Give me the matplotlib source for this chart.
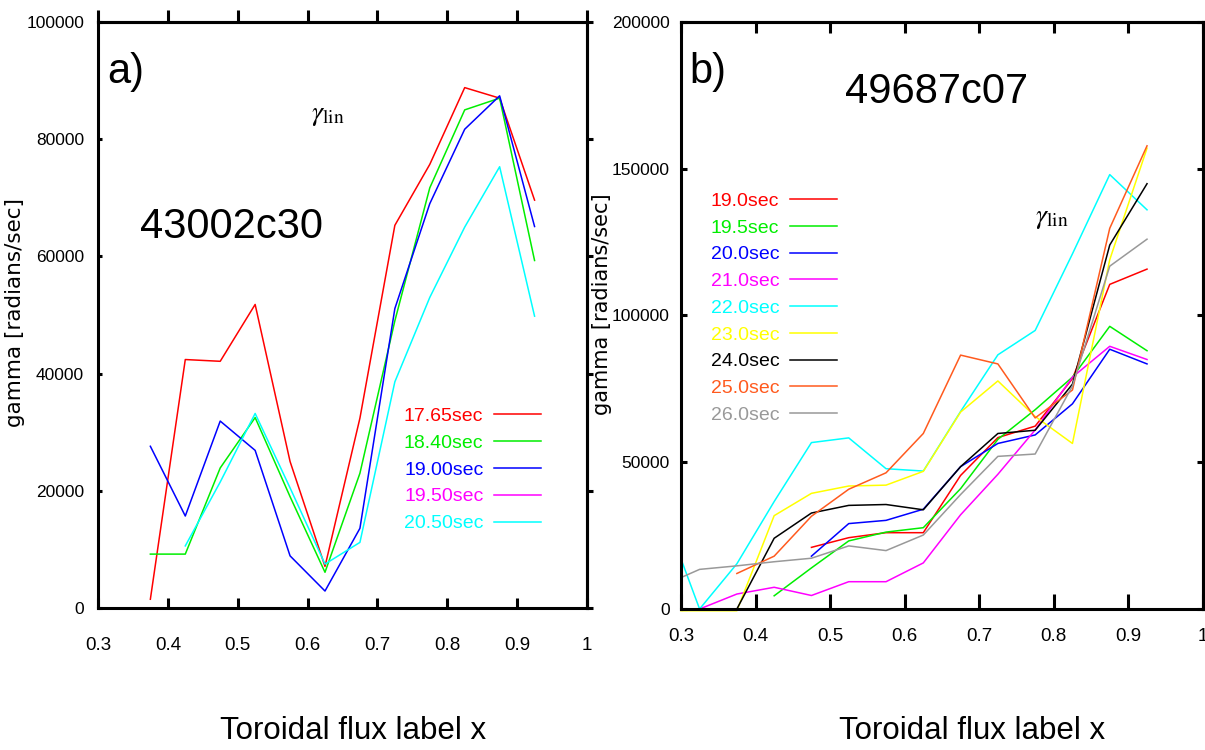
import matplotlib
matplotlib.use('Agg')
import matplotlib.pyplot as plt

NARROW = ['Liberation Sans Narrow', 'Liberation Sans', 'DejaVu Sans']
SANS = ['Liberation Sans', 'DejaVu Sans']
plt.rcParams['mathtext.fontset'] = 'stix'

# ---------------- Panel a data (43002c30) ----------------
xa = [0.375, 0.425, 0.475, 0.525, 0.575, 0.625, 0.675, 0.725, 0.775, 0.825, 0.875, 0.925]
xa_late = [0.425, 0.475, 0.525, 0.575, 0.625, 0.675, 0.725, 0.775, 0.825, 0.875, 0.925]
a_1765 = [1500, 42400, 42100, 51800, 25000, 7100, 32400, 65300, 75700, 88800, 87000, 69600]
a_1840 = [9200, 9200, 23900, 32500, 19000, 6100, 23000, 49000, 71700, 85000, 87000, 59300]
a_1900 = [27600, 15700, 31900, 26900, 8900, 2900, 13600, 51100, 69000, 81700, 87400, 65100]
a_1950 = []  # appears only in the legend
a_2050 = [10600, 21500, 33200, 20500, 7500, 11200, 38600, 53000, 65000, 75300, 49800]
a_labels = ['17.65sec', '18.40sec', '19.00sec', '19.50sec', '20.50sec']
a_colors = ['#ff0000', '#00ee00', '#0000ff', '#ff00ff', '#00ffff']
a_series = [(xa, a_1765), (xa, a_1840), (xa, a_1900), ([], a_1950), (xa_late, a_2050)]

# ---------------- Panel b data (49687c07) ----------------
xb_all = [0.3, 0.325, 0.375, 0.425, 0.475, 0.525, 0.575, 0.625, 0.675, 0.725, 0.775, 0.825, 0.875, 0.925]
xb_325 = [0.325, 0.375, 0.425, 0.475, 0.525, 0.575, 0.625, 0.675, 0.725, 0.775, 0.825, 0.875, 0.925]
xb_375 = [0.375, 0.425, 0.475, 0.525, 0.575, 0.625, 0.675, 0.725, 0.775, 0.825, 0.875, 0.925]
xb_425 = [0.425, 0.475, 0.525, 0.575, 0.625, 0.675, 0.725, 0.775, 0.825, 0.875, 0.925]
xb_475 = [0.475, 0.525, 0.575, 0.625, 0.675, 0.725, 0.775, 0.825, 0.875, 0.925]
b_190 = [21000, 24300, 26000, 26000, 45500, 58400, 62300, 78500, 110600, 115800]
b_195 = [4500, 14000, 23200, 26200, 27700, 41000, 57800, 67900, 79000, 96300, 88000]
b_200 = [18000, 29100, 30200, 34000, 48500, 56400, 59300, 69900, 88500, 83500]
b_210 = [0, 5100, 7400, 4600, 9300, 9300, 15700, 32100, 45900, 61000, 79000, 89500, 85000]
b_220 = [17100, 0, 15400, 36600, 56700, 58300, 47800, 47000, 67300, 86600, 94900, 121000, 148000, 136000]
b_230 = [-600, -600, -600, 31800, 39400, 41900, 42200, 46900, 67100, 77700, 65600, 56400, 119000, 157000]
b_240 = [0, 0, 0, 24100, 32700, 35300, 35600, 33800, 48500, 59800, 60900, 76600, 124000, 144900]
b_250 = [12100, 18000, 31600, 40800, 46400, 59800, 86500, 83500, 65100, 74600, 129700, 157800]
b_260 = [10700, 13500, 14700, 16100, 17300, 21500, 19900, 25200, 39000, 52000, 52800, 76000, 116800, 126000]
b_labels = ['19.0sec', '19.5sec', '20.0sec', '21.0sec', '22.0sec', '23.0sec', '24.0sec', '25.0sec', '26.0sec']
b_colors = ['#ff0000', '#00ee00', '#0000ff', '#ff00ff', '#00ffff', '#ffff00', '#000000', '#ff5a1e', '#999999']
b_series = [(xb_475, b_190), (xb_425, b_195), (xb_475, b_200), (xb_325, b_210), (xb_all, b_220),
            (xb_all, b_230), (xb_all, b_240), (xb_375, b_250), (xb_all, b_260)]

xticks = [0.3, 0.4, 0.5, 0.6, 0.7, 0.8, 0.9, 1.0]
xticklabels = ['0.3', '0.4', '0.5', '0.6', '0.7', '0.8', '0.9', '1']
a_yticks = [0, 20000, 40000, 60000, 80000, 100000]
b_yticks = [0, 50000, 100000, 150000, 200000]

fig = plt.figure(figsize=(12.05, 7.5), dpi=100)
axa = fig.add_axes([0.0813, 0.1893, 0.4058, 0.7814])
axb = fig.add_axes([0.5651, 0.1880, 0.4332, 0.7827])

SPW = 2.2
TICKFS = 12.5


def style(ax, yticks, ymax, top_dir, top_len, right_dir, right_len, bot_len, left_len, xpad, ypad):
    ax.set_xlim(0.3, 1.0)
    ax.set_ylim(0, ymax)
    for s in ax.spines.values():
        s.set_linewidth(SPW)
    ax.set_xticks(xticks)
    ax.set_xticklabels(xticklabels, fontfamily=NARROW, fontsize=TICKFS + 1)
    ax.set_yticks(yticks)
    ax.set_yticklabels([str(v) for v in yticks], fontfamily=NARROW, fontsize=TICKFS)
    ax.tick_params(axis='x', direction='in', length=bot_len, width=SPW, pad=xpad, top=False)
    ax.tick_params(axis='y', direction='in', length=left_len, width=SPW, pad=ypad, right=False)
    sx = ax.secondary_xaxis('top')
    sx.set_xticks(xticks)
    sx.tick_params(direction=top_dir, length=top_len, width=SPW, labeltop=False)
    sx.spines['top'].set_linewidth(SPW)
    sy = ax.secondary_yaxis('right')
    sy.set_yticks(yticks)
    sy.tick_params(direction=right_dir, length=right_len, width=SPW, labelright=False)
    sy.spines['right'].set_linewidth(SPW)


style(axa, a_yticks, 100000, 'out', 9, 'out', 4, 7, 3, 21, 10)
style(axb, b_yticks, 200000, 'in', 8, 'inout', 8, 11, 4, 14, 8)

for (x, y), c, lab in zip(a_series, a_colors, a_labels):
    axa.plot(x, y, color=c, lw=1.1, label=lab, clip_on=False)
for (x, y), c, lab in zip(b_series, b_colors, b_labels):
    axb.plot(x, y, color=c, lw=1.1, label=lab, clip_on=False)

leg_kw = dict(frameon=False, markerfirst=False, labelcolor='linecolor', handlelength=2.37,
              handletextpad=0.57, borderpad=0, borderaxespad=0,
              prop={'family': NARROW, 'size': 14}, loc='upper right')
axa.legend(bbox_to_anchor=(0.905, 0.343), labelspacing=0.48, **leg_kw)
axb.legend(bbox_to_anchor=(0.298, 0.710), labelspacing=0.47, **leg_kw)

# annotations
axa.text(0.020, 0.896, 'a)', transform=axa.transAxes, fontfamily=SANS, fontsize=30, va='baseline')
axa.text(0.086, 0.631, '43002c30', transform=axa.transAxes, fontfamily=SANS, fontsize=30, va='baseline')
axa.text(0.436, 0.833, r'$\gamma_{\rm lin}$', transform=axa.transAxes, fontsize=20, va='baseline')
axb.text(0.017, 0.896, 'b)', transform=axb.transAxes, fontfamily=SANS, fontsize=30, va='baseline')
axb.text(0.314, 0.862, '49687c07', transform=axb.transAxes, fontfamily=SANS, fontsize=30, va='baseline')
axb.text(0.678, 0.658, r'$\gamma_{\rm lin}$', transform=axb.transAxes, fontsize=20, va='baseline')

# axis labels
axa.text(-0.170, 0.505, 'gamma [radians/sec]', transform=axa.transAxes, rotation=90,
         ha='center', va='center', fontfamily='DejaVu Sans', fontsize=15.5)
axb.text(-0.151, 0.520, 'gamma [radians/sec]', transform=axb.transAxes, rotation=90,
         ha='center', va='center', fontfamily='DejaVu Sans', fontsize=15)
axa.text(0.521, -0.21, 'Toroidal flux label x', transform=axa.transAxes,
         ha='center', va='center', fontfamily=NARROW, fontsize=22.5)
axb.text(0.557, -0.208, 'Toroidal flux label x', transform=axb.transAxes,
         ha='center', va='center', fontfamily=NARROW, fontsize=22.5)

fig.savefig('out.png', dpi=100)
